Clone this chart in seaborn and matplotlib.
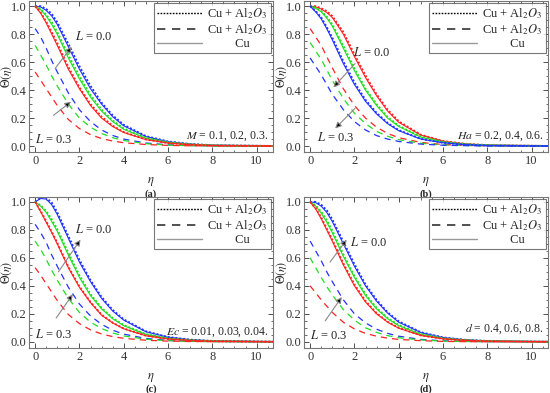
import numpy as np
import pandas as pd
import matplotlib
matplotlib.use("Agg")
import matplotlib.pyplot as plt
from matplotlib.lines import Line2D
import seaborn as sns

# eta grid shared by every curve
eta = [0, 0.25, 0.5, 0.75, 1, 1.5, 2, 2.5, 3, 3.5, 4, 5, 6, 7, 8, 11]

# ---- panel (a): M = 0.1, 0.2, 0.3 ----
a_blue_solid = [1.00, 0.995, 0.97, 0.93, 0.87, 0.71, 0.55, 0.41, 0.30, 0.21, 0.145, 0.068, 0.031, 0.014, 0.006, 0.0]
a_blue_dot = [1.00, 1.0, 0.98, 0.945, 0.885, 0.73, 0.57, 0.43, 0.31, 0.22, 0.152, 0.071, 0.033, 0.015, 0.006, 0.0]
a_green_solid = [1.00, 0.975, 0.93, 0.87, 0.80, 0.63, 0.48, 0.35, 0.25, 0.175, 0.12, 0.056, 0.026, 0.012, 0.005, 0.0]
a_green_dot = [1.00, 0.98, 0.94, 0.885, 0.815, 0.65, 0.50, 0.365, 0.26, 0.183, 0.126, 0.059, 0.027, 0.012, 0.005, 0.0]
a_red_solid = [1.00, 0.95, 0.88, 0.80, 0.72, 0.55, 0.41, 0.29, 0.20, 0.14, 0.097, 0.046, 0.021, 0.010, 0.004, 0.0]
a_red_dot = [1.00, 0.955, 0.89, 0.815, 0.735, 0.565, 0.42, 0.30, 0.21, 0.146, 0.10, 0.048, 0.022, 0.010, 0.004, 0.0]
a_blue_dash = [0.84, 0.78, 0.70, 0.61, 0.53, 0.38, 0.26, 0.175, 0.115, 0.076, 0.05, 0.022, 0.009, 0.004, 0.002, 0.0]
a_green_dash = [0.72, 0.65, 0.58, 0.50, 0.43, 0.30, 0.20, 0.135, 0.09, 0.06, 0.04, 0.017, 0.007, 0.003, 0.001, 0.0]
a_red_dash = [0.53, 0.47, 0.41, 0.35, 0.29, 0.19, 0.125, 0.082, 0.054, 0.036, 0.024, 0.011, 0.005, 0.002, 0.001, 0.0]

# ---- panel (b): Ha = 0.2, 0.4, 0.6 ----
b_red_solid = [1.00, 0.995, 0.98, 0.955, 0.92, 0.80, 0.64, 0.49, 0.36, 0.25, 0.17, 0.078, 0.035, 0.016, 0.007, 0.0]
b_red_dot = [1.00, 1.0, 0.985, 0.965, 0.93, 0.815, 0.655, 0.505, 0.37, 0.26, 0.177, 0.081, 0.036, 0.016, 0.007, 0.0]
b_green_solid = [1.00, 0.985, 0.96, 0.915, 0.86, 0.70, 0.54, 0.40, 0.29, 0.20, 0.14, 0.064, 0.029, 0.013, 0.006, 0.0]
b_green_dot = [1.00, 0.99, 0.965, 0.925, 0.87, 0.715, 0.555, 0.41, 0.30, 0.207, 0.145, 0.066, 0.030, 0.013, 0.006, 0.0]
b_blue_solid = [1.00, 0.96, 0.91, 0.84, 0.76, 0.59, 0.44, 0.32, 0.23, 0.16, 0.11, 0.05, 0.023, 0.010, 0.004, 0.0]
b_blue_dot = [1.00, 0.965, 0.92, 0.85, 0.775, 0.605, 0.455, 0.33, 0.237, 0.165, 0.114, 0.052, 0.024, 0.010, 0.004, 0.0]
b_red_dash = [0.84, 0.78, 0.72, 0.64, 0.56, 0.41, 0.29, 0.20, 0.135, 0.09, 0.06, 0.026, 0.011, 0.005, 0.002, 0.0]
b_green_dash = [0.74, 0.68, 0.62, 0.545, 0.47, 0.34, 0.235, 0.16, 0.105, 0.07, 0.046, 0.02, 0.008, 0.004, 0.002, 0.0]
b_blue_dash = [0.63, 0.57, 0.51, 0.44, 0.37, 0.26, 0.175, 0.115, 0.075, 0.05, 0.033, 0.014, 0.006, 0.003, 0.001, 0.0]

# ---- panel (c): Ec = 0.01, 0.03, 0.04 ----
c_blue_solid = [1.00, 1.025, 1.02, 0.98, 0.91, 0.74, 0.57, 0.43, 0.31, 0.22, 0.155, 0.072, 0.033, 0.015, 0.006, 0.0]
c_blue_dot = [1.00, 1.03, 1.03, 0.995, 0.925, 0.755, 0.585, 0.44, 0.32, 0.228, 0.16, 0.075, 0.034, 0.015, 0.006, 0.0]
c_green_solid = [1.00, 0.97, 0.925, 0.86, 0.79, 0.62, 0.46, 0.33, 0.235, 0.165, 0.115, 0.053, 0.024, 0.011, 0.005, 0.0]
c_green_dot = [1.00, 0.975, 0.935, 0.875, 0.805, 0.635, 0.475, 0.34, 0.243, 0.17, 0.12, 0.055, 0.025, 0.011, 0.005, 0.0]
c_red_solid = [1.00, 0.93, 0.855, 0.78, 0.70, 0.53, 0.39, 0.28, 0.19, 0.135, 0.093, 0.043, 0.020, 0.009, 0.004, 0.0]
c_red_dot = [1.00, 0.935, 0.862, 0.787, 0.707, 0.537, 0.395, 0.284, 0.194, 0.137, 0.095, 0.044, 0.020, 0.009, 0.004, 0.0]
c_blue_dash = [0.84, 0.78, 0.71, 0.62, 0.54, 0.39, 0.27, 0.185, 0.125, 0.083, 0.055, 0.024, 0.010, 0.004, 0.002, 0.0]
c_green_dash = [0.72, 0.66, 0.59, 0.51, 0.44, 0.31, 0.21, 0.14, 0.095, 0.063, 0.042, 0.018, 0.008, 0.003, 0.001, 0.0]
c_red_dash = [0.53, 0.475, 0.415, 0.355, 0.295, 0.195, 0.13, 0.085, 0.056, 0.037, 0.025, 0.011, 0.005, 0.002, 0.001, 0.0]

# ---- panel (d): d = 0.4, 0.6, 0.8 ----
d_blue_solid = [1.00, 0.995, 0.97, 0.925, 0.86, 0.70, 0.54, 0.40, 0.29, 0.205, 0.14, 0.066, 0.030, 0.014, 0.006, 0.0]
d_blue_dot = [1.00, 1.0, 0.98, 0.94, 0.875, 0.715, 0.555, 0.41, 0.30, 0.21, 0.146, 0.068, 0.031, 0.014, 0.006, 0.0]
d_green_solid = [1.00, 0.97, 0.92, 0.855, 0.78, 0.61, 0.46, 0.33, 0.235, 0.165, 0.115, 0.053, 0.024, 0.011, 0.005, 0.0]
d_green_dot = [1.00, 0.975, 0.93, 0.87, 0.795, 0.625, 0.47, 0.34, 0.243, 0.17, 0.12, 0.055, 0.025, 0.011, 0.005, 0.0]
d_red_solid = [1.00, 0.95, 0.88, 0.80, 0.72, 0.55, 0.40, 0.285, 0.20, 0.14, 0.097, 0.045, 0.021, 0.010, 0.004, 0.0]
d_red_dot = [1.00, 0.955, 0.888, 0.81, 0.73, 0.56, 0.41, 0.292, 0.205, 0.143, 0.10, 0.046, 0.021, 0.010, 0.004, 0.0]
d_blue_dash = [0.72, 0.65, 0.58, 0.50, 0.43, 0.30, 0.20, 0.135, 0.09, 0.06, 0.04, 0.017, 0.007, 0.003, 0.001, 0.0]
d_green_dash = [0.60, 0.53, 0.46, 0.395, 0.335, 0.23, 0.155, 0.10, 0.067, 0.044, 0.029, 0.013, 0.005, 0.002, 0.001, 0.0]
d_red_dash = [0.40, 0.35, 0.30, 0.255, 0.21, 0.14, 0.092, 0.06, 0.04, 0.026, 0.017, 0.008, 0.003, 0.001, 0.0, 0.0]

panel_letters = ["(a)", "(b)", "(c)", "(d)"]
param_texts = [r"$M$ = 0.1, 0.2, 0.3.", r"$Ha$ = 0.2, 0.4, 0.6.",
               r"$Ec$ = 0.01, 0.03, 0.04.", r"$d$ = 0.4, 0.6, 0.8."]
legend_labels = [r"Cu + Al$_2$$O_3$", r"Cu + Al$_2$$O_3$", "         Cu"]

BLUE, GREEN, RED = "#2233ff", "#22dd22", "#ff2222"

panels = [
    [(BLUE, a_blue_solid, a_blue_dot, a_blue_dash), (GREEN, a_green_solid, a_green_dot, a_green_dash),
     (RED, a_red_solid, a_red_dot, a_red_dash)],
    [(RED, b_red_solid, b_red_dot, b_red_dash), (GREEN, b_green_solid, b_green_dot, b_green_dash),
     (BLUE, b_blue_solid, b_blue_dot, b_blue_dash)],
    [(BLUE, c_blue_solid, c_blue_dot, c_blue_dash), (GREEN, c_green_solid, c_green_dot, c_green_dash),
     (RED, c_red_solid, c_red_dot, c_red_dash)],
    [(BLUE, d_blue_solid, d_blue_dot, d_blue_dash), (GREEN, d_green_solid, d_green_dot, d_green_dash),
     (RED, d_red_solid, d_red_dot, d_red_dash)],
]

# annotation positions (data coords): L=0.0 text, arrow1 tail/head, arrow2 tail/head, L=0.3 text, param y
annots = [
    dict(t0=(1.8, 0.78), a1=((0.9, 0.555), (1.65, 0.71)), a2=((0.83, 0.22), (1.62, 0.317)), t3=(0.0, 0.048), py=0.067),
    dict(t0=(1.95, 0.667), a1=((2.03, 0.59), (1.05, 0.42)), a2=((2.03, 0.27), (1.13, 0.126)), t3=(0.3, 0.062), py=0.067),
    dict(t0=(1.8, 0.80), a1=((1.05, 0.50), (2.05, 0.73)), a2=((0.95, 0.17), (1.7, 0.34)), t3=(0.0, 0.05), py=0.067),
    dict(t0=(1.8, 0.71), a1=((0.9, 0.57), (1.65, 0.73)), a2=((0.68, 0.15), (1.43, 0.32)), t3=(0.0, 0.045), py=0.09),
]

sns.set_style("ticks")
plt.rcParams["font.family"] = ["Liberation Serif", "DejaVu Serif"]
plt.rcParams["mathtext.fontset"] = "stix"
plt.rcParams["xtick.direction"] = "in"
plt.rcParams["ytick.direction"] = "in"

fig = plt.figure(figsize=(5.5, 3.93), dpi=100)
positions = [(0.053, 0.613), (0.553, 0.613), (0.053, 0.115), (0.553, 0.115)]
W, H = 0.443, 0.384

for i, (pos, curves) in enumerate(zip(positions, panels)):
    ax = fig.add_axes([pos[0], pos[1], W, H])
    for color, solid, dot, dash in curves:
        sns.lineplot(x=eta, y=solid, ax=ax, color=color, lw=0.8, linestyle="-", estimator=None)
        sns.lineplot(x=eta, y=dot, ax=ax, color=color, lw=1.4, estimator=None).lines[-1].set_dashes([1.0, 1.0])
        ln = sns.lineplot(x=eta, y=dash, ax=ax, color=color, lw=0.9, estimator=None).lines[-1]
        ln.set_dashes([5, 4])
    ax.set_xlim(-0.27, 10.73)
    ax.set_ylim(-0.043, 1.036)
    ax.set_xticks([0, 2, 4, 6, 8, 10])
    ax.set_yticks([0.0, 0.2, 0.4, 0.6, 0.8, 1.0])
    ax.set_yticklabels(["0.0", "0.2", "0.4", "0.6", "0.8", "1.0"])
    ax.set_xticks(np.arange(0, 11, 0.5), minor=True)
    ax.set_yticks(np.arange(0, 1.05, 0.05), minor=True)
    ax.tick_params(which="both", top=True, right=True, labelsize=9, colors="#333333", pad=2)
    ax.tick_params(which="major", length=3.5, width=0.6)
    ax.tick_params(which="minor", length=1.8, width=0.5)
    for s in ax.spines.values():
        s.set_color("#777777")
        s.set_linewidth(0.8)
    ax.set_xlabel(r"$\eta$", fontsize=9, labelpad=6)
    ax.set_ylabel(r"$\Theta(\eta)$", fontsize=8.5)
    ax.yaxis.set_label_coords(-0.062, 0.5)
    ax.text(0.5, -0.245, panel_letters[i], transform=ax.transAxes, ha="center", va="top",
            fontsize=7.5, fontweight="bold")

    an = annots[i]
    ax.text(an["t0"][0], an["t0"][1], r"$L$ = 0.0", fontsize=9, ha="left", va="center")
    ax.text(an["t3"][0], an["t3"][1], r"$L$ = 0.3", fontsize=9, ha="left", va="center")
    for tail, head in (an["a1"], an["a2"]):
        ax.annotate("", xy=head, xytext=tail,
                    arrowprops=dict(arrowstyle="-|>", ec="#888888", fc="black", lw=0.8,
                                    mutation_scale=9, shrinkA=0, shrinkB=0))
    ax.text(10.55, an["py"], param_texts[i], fontsize=8.5, ha="right", va="center")

    handles = [Line2D([], [], color="black", lw=1.0, dashes=[1.2, 1.0]),
               Line2D([], [], color="#333333", lw=1.2, dashes=[5, 4]),
               Line2D([], [], color="#999999", lw=1.0)]
    leg = ax.legend(handles, legend_labels, loc="upper right", fontsize=9, frameon=True,
                    fancybox=False, edgecolor="#555555", handlelength=3.6, handletextpad=0.4,
                    borderpad=0.25, labelspacing=0.1, borderaxespad=0.15)
    leg.get_frame().set_linewidth(0.8)

fig.savefig("out.png", dpi=100)
